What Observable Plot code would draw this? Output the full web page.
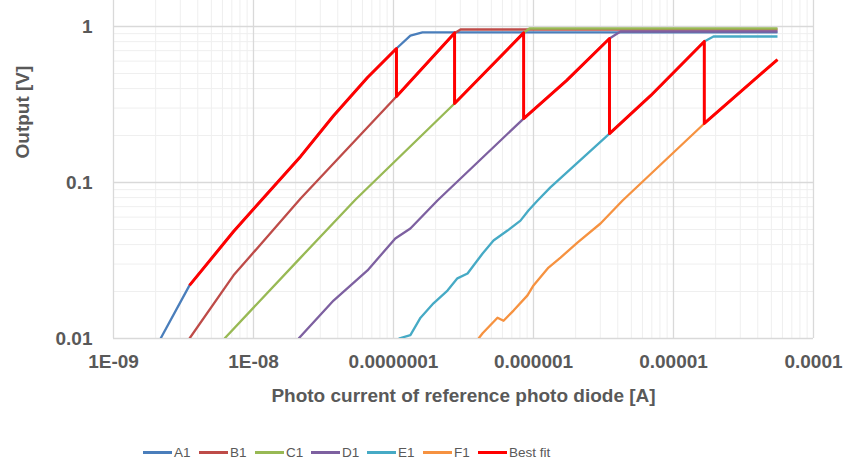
<!DOCTYPE html>
<html>
<head>
<meta charset="utf-8">
<script src="https://cdn.jsdelivr.net/npm/d3@7"></script>
<script src="https://cdn.jsdelivr.net/npm/@observablehq/plot@0.6"></script>
<style>
  html, body { margin: 0; padding: 0; background: #fff; }
  body { width: 846px; height: 462px; position: relative; overflow: hidden; font-family: "Liberation Sans", Arial, sans-serif; }
  #legend { position: absolute; top: 443px; left: 0; width: 846px; height: 18px; }
  .item { position: absolute; top: 0; height: 18px; display: flex; align-items: center; font-size: 13.5px; color: #595959; }
  .sw { width: 29px; height: 3px; margin-right: 2px; }
</style>
</head>
<body>
<div id="chart"></div>
<div id="legend"></div>
<script>
// Series data: [photo current (A), output (V)]
const A1 = [[2.17e-9,0.01],[3.49e-9,0.0219],[7.20e-9,0.0485],[2.17e-8,0.147],[3.73e-8,0.268],[6.52e-8,0.471],[1.05e-7,0.723],[1.32e-7,0.875],[1.61e-7,0.916],[5.53e-5,0.916]];
const B1 = [[3.49e-9,0.01],[7.20e-9,0.0254],[2.17e-8,0.0789],[1.05e-7,0.356],[2.73e-7,0.905],[3.01e-7,0.957],[5.53e-5,0.957]];
const C1 = [[6.21e-9,0.01],[2.17e-8,0.033],[5.36e-8,0.0778],[2.73e-7,0.321],[8.5e-7,0.91],[9.35e-7,0.971],[5.53e-5,0.971]];
const D1 = [[2.10e-8,0.01],[3.73e-8,0.0175],[6.52e-8,0.0273],[1.03e-7,0.0438],[1.32e-7,0.0507],[2.06e-7,0.0767],[8.5e-7,0.257],[1.72e-6,0.45],[3.49e-6,0.838],[4.18e-6,0.929],[5.53e-5,0.929]];
const E1 = [[1.09e-7,0.01],[1.32e-7,0.0105],[1.56e-7,0.0136],[1.93e-7,0.0168],[2.43e-7,0.0203],[2.86e-7,0.0243],[3.38e-7,0.0261],[3.73e-7,0.0294],[4.33e-7,0.0351],[5.18e-7,0.0425],[6.52e-7,0.0492],[8.07e-7,0.057],[9.2e-7,0.0662],[1.07e-6,0.0767],[1.32e-6,0.093],[3.49e-6,0.206],[6.86e-6,0.36],[1.66e-5,0.802],[1.93e-5,0.863],[5.53e-5,0.863]];
const F1 = [[4.05e-7,0.01],[4.33e-7,0.0108],[5.53e-7,0.0136],[6.11e-7,0.0130],[7.20e-7,0.0151],[9.06e-7,0.0189],[1.0e-6,0.0219],[1.28e-6,0.0285],[1.56e-6,0.033],[2.06e-6,0.0412],[3.01e-6,0.0546],[4.33e-6,0.0767],[1.66e-5,0.239],[5.53e-5,0.614]];
const BestFit = [[3.49e-9,0.0219],[7.20e-9,0.0485],[2.17e-8,0.147],[3.73e-8,0.268],[6.52e-8,0.471],[1.05e-7,0.723],
  [1.05e-7,0.356],[2.73e-7,0.91],
  [2.73e-7,0.321],[8.5e-7,0.91],
  [8.5e-7,0.257],[1.72e-6,0.45],[3.49e-6,0.838],
  [3.49e-6,0.206],[6.86e-6,0.36],[1.66e-5,0.802],
  [1.66e-5,0.239],[5.53e-5,0.614]];

const seriesNames = ["A1","B1","C1","D1","E1","F1","Best fit"];
const seriesData = [A1,B1,C1,D1,E1,F1,BestFit];
const seriesColors = ["#4A7EBB","#BE4B48","#98B954","#7D60A0","#46AAC5","#F69240","#FF0000"];
const seriesWidths = [2.3,2.3,2.3,2.3,2.3,2.3,3];

const xTicks = [1e-9,1e-8,1e-7,1e-6,1e-5,1e-4];
const xTickLabels = ["1E-09","1E-08","0.0000001","0.000001","0.00001","0.0001"];
const yTicks = [0.01,0.1,1];
const yTickLabels = ["0.01","0.1","1"];
const xTitle = "Photo current of reference photo diode [A]";
const yTitle = "Output [V]";

const xMinor = [];
for (let e = -9; e < -4; e++) for (let k = 2; k <= 9; k++) xMinor.push(k * Math.pow(10, e));
const yMinor = [];
for (let e = -2; e < 0; e++) for (let k = 2; k <= 9; k++) yMinor.push(k * Math.pow(10, e));

const rows = [];
seriesData.forEach((arr, i) => arr.forEach(([x, y], j) => rows.push({series: seriesNames[i], x, y, j})));

const xLabelOf = d => xTickLabels[xTicks.findIndex(t => Math.abs(Math.log10(t) - Math.log10(d)) < 1e-6)];
const yLabelOf = d => yTickLabels[yTicks.findIndex(t => Math.abs(Math.log10(t) - Math.log10(d)) < 1e-6)];

const textColor = "#595959";
const marks = [
  Plot.ruleX(xMinor, {stroke: "#efefef", strokeWidth: 1}),
  Plot.ruleY(yMinor, {stroke: "#efefef", strokeWidth: 1}),
  Plot.ruleX(xTicks, {stroke: "#d9d9d9", strokeWidth: 1.3}),
  Plot.ruleY(yTicks, {stroke: "#d9d9d9", strokeWidth: 1.6}),
];
seriesNames.forEach((name, i) => {
  marks.push(Plot.line(rows.filter(r => r.series === name), {
    x: "x", y: "y", stroke: seriesColors[i], strokeWidth: seriesWidths[i],
    strokeLinejoin: "round", strokeLinecap: "butt", clip: true
  }));
});
marks.push(
  Plot.text(xTicks, {x: d => d, frameAnchor: "bottom", dy: 29, text: xLabelOf, fontSize: 19, fontWeight: "bold", fill: textColor}),
  Plot.text(yTicks, {y: d => d, frameAnchor: "left", dx: -21, textAnchor: "end", text: yLabelOf, fontSize: 19, fontWeight: "bold", fill: textColor}),
  Plot.text([xTitle], {frameAnchor: "bottom", dy: 63, text: d => d, fontSize: 19, fontWeight: "bold", fill: textColor}),
  Plot.text([yTitle], {frameAnchor: "left", dx: -91, dy: -11, rotate: -90, text: d => d, fontSize: 19, fontWeight: "bold", fill: textColor})
);

const chart = Plot.plot({
  width: 846,
  height: 425,
  marginTop: 0,
  marginBottom: 87,
  marginLeft: 113,
  marginRight: 33,
  style: {fontFamily: "Liberation Sans, Arial, sans-serif", background: "#fff", overflow: "visible"},
  x: {type: "log", domain: [1e-9, 1e-4], axis: null},
  y: {type: "log", domain: [0.01, 1.468], axis: null},
  marks
});
document.getElementById("chart").appendChild(chart);

// Legend
const legend = document.getElementById("legend");
const legendLeft = [143, 199, 255, 311, 367, 423, 478];
seriesNames.forEach((name, i) => {
  const it = document.createElement("div");
  it.className = "item";
  it.style.left = legendLeft[i] + "px";
  const sw = document.createElement("div");
  sw.className = "sw";
  sw.style.background = seriesColors[i];
  it.appendChild(sw);
  const t = document.createElement("span");
  t.textContent = name;
  it.appendChild(t);
  legend.appendChild(it);
});
</script>
</body>
</html>
